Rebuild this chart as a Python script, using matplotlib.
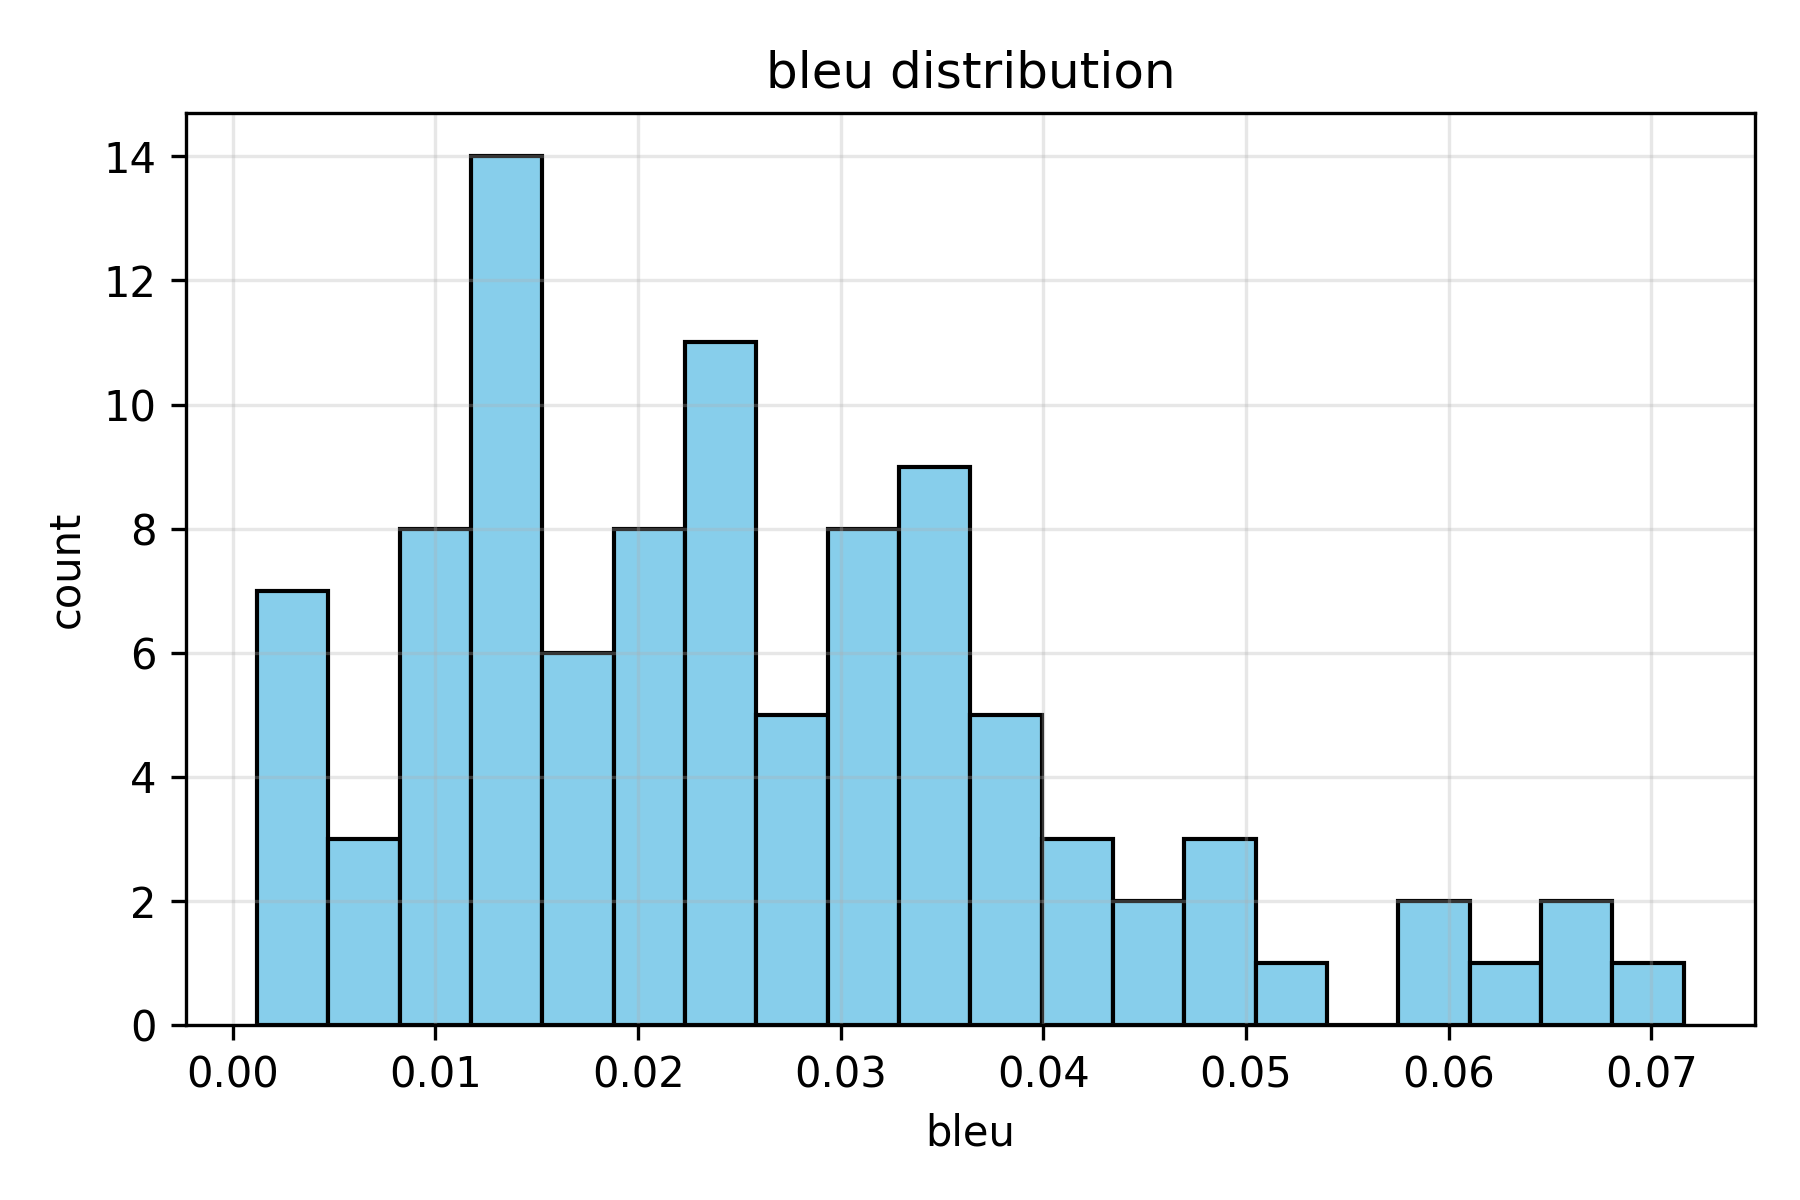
"""Histogram of bleu scores"""

import matplotlib

matplotlib.use("Agg")
import matplotlib.pyplot as plt
import numpy as np

# Bin range (20 equal-width bins)
bleu_min = 0.0012
bleu_max = 0.0716
n_bins = 20

# Count per bin, left to right
counts = [7, 3, 8, 14, 6, 8, 11, 5, 8, 9, 5, 3, 2, 3, 1, 0, 2, 1, 2, 1]

x_ticks = [0.00, 0.01, 0.02, 0.03, 0.04, 0.05, 0.06, 0.07]
y_ticks = [0, 2, 4, 6, 8, 10, 12, 14]


def plot_hist():
    fig, ax = plt.subplots(figsize=(6, 4), dpi=300)

    edges = np.linspace(bleu_min, bleu_max, n_bins + 1)
    ax.hist(edges[:-1], bins=edges, weights=counts, color="skyblue", edgecolor="black")

    ax.set_xticks(x_ticks)
    ax.set_yticks(y_ticks)
    ax.grid(True, alpha=0.3)

    ax.set_title("bleu distribution")
    ax.set_xlabel("bleu")
    ax.set_ylabel("count")

    fig.tight_layout()
    # nudge the top down a touch to line up with the original
    fig.subplots_adjust(top=0.906)
    fig.savefig("out.png", dpi=300)
    plt.close(fig)


plot_hist()
